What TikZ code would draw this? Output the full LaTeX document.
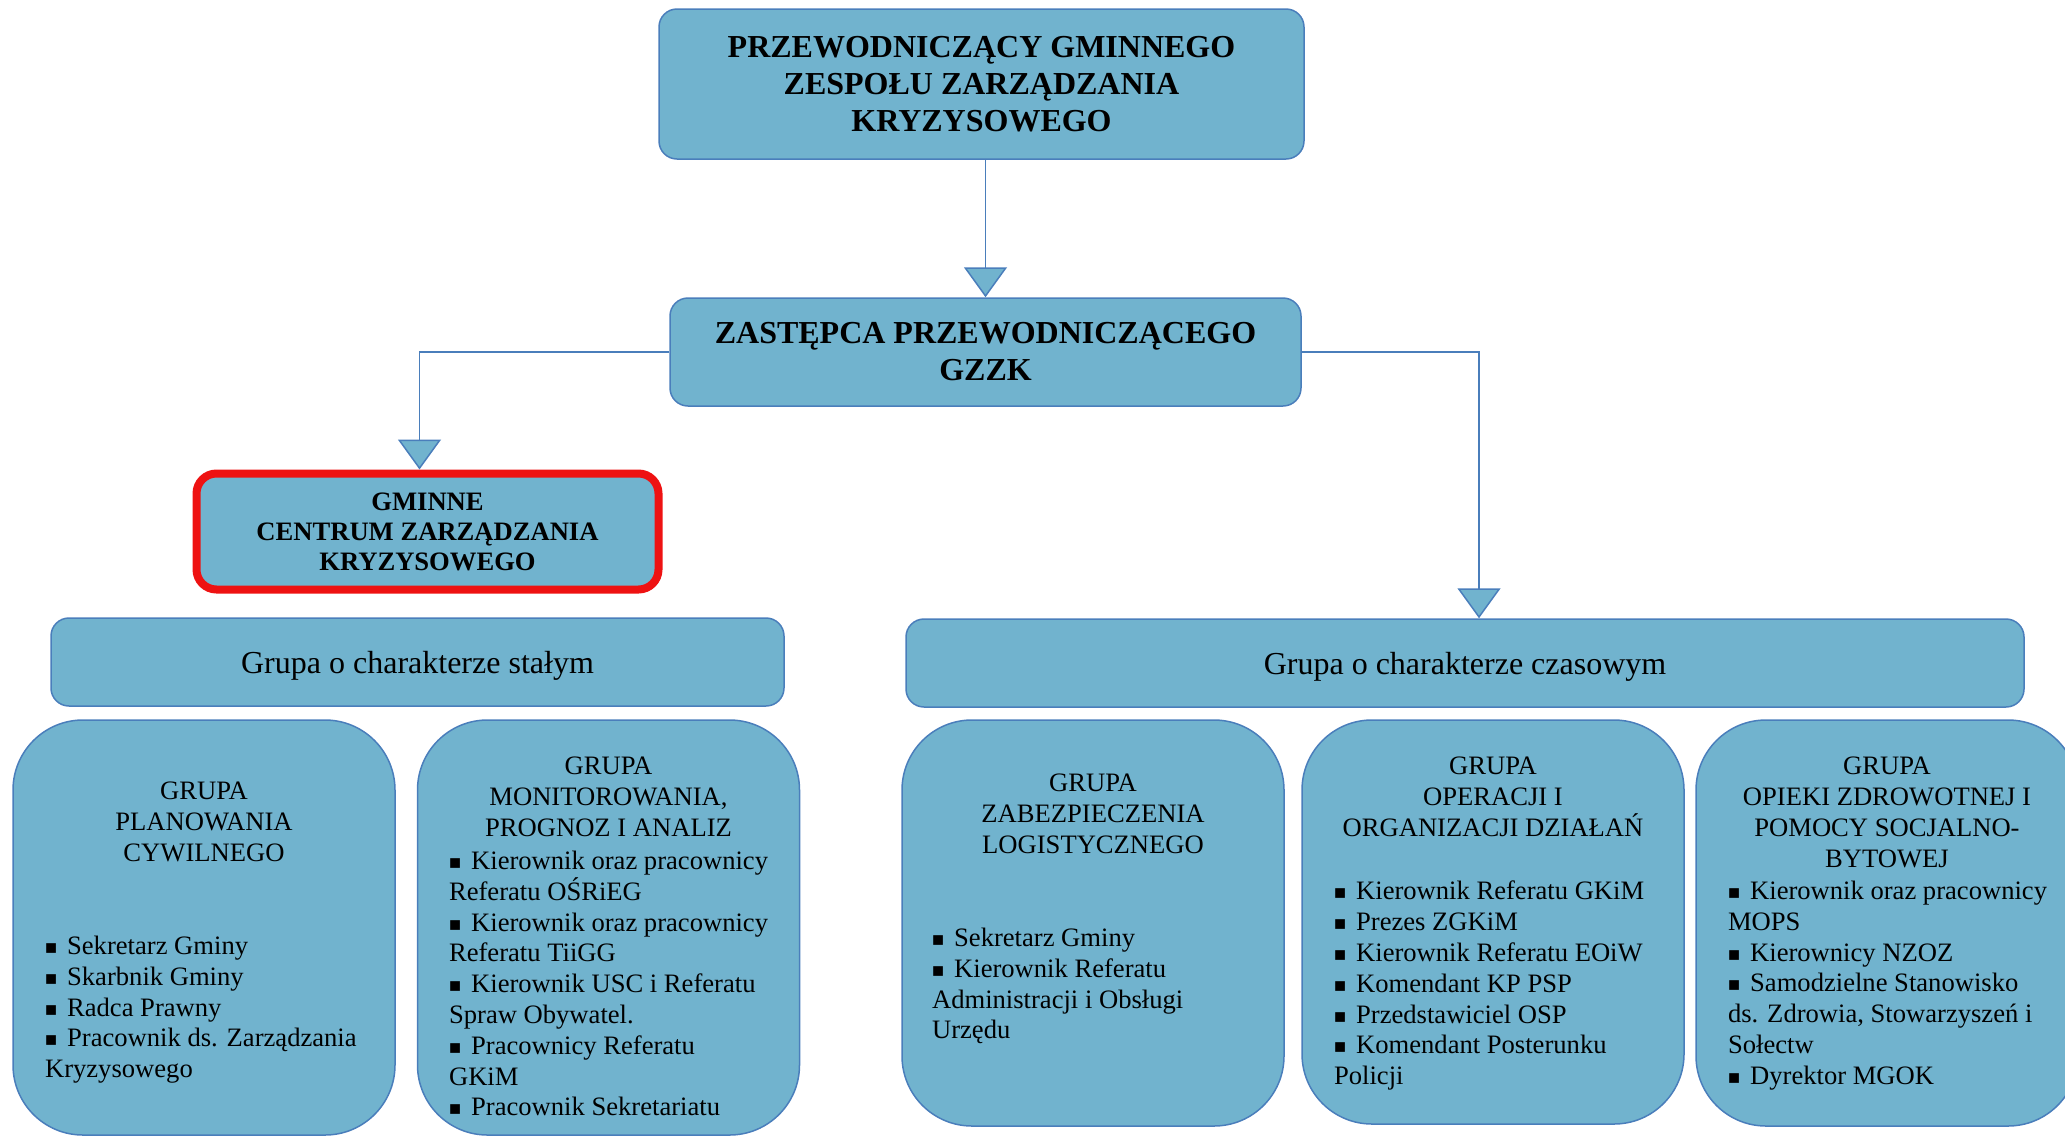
\documentclass[tikz,border=0pt]{standalone}
\usepackage{fontspec}
\setmainfont{Liberation Serif}
\usetikzlibrary{arrows.meta}
\definecolor{kolor}{HTML}{71B3CE}
\definecolor{ramka}{HTML}{4A7EBB}
\definecolor{czerw}{HTML}{EE1212}

\tikzstyle{box} = [draw=ramka, fill=kolor, line width=0.75pt, rounded corners=9pt, align=center, inner sep=0pt]
\tikzstyle{head} = [box, font=\bfseries\fontsize{16}{18.5}\selectfont]
\tikzstyle{bar} = [box, minimum height=44pt, text height=15pt, font=\fontsize{16}{19}\selectfont]
\tikzstyle{card} = [box, rounded corners=35pt, minimum width=191pt]
\tikzstyle{title} = [anchor=north, align=center, font=\fontsize{13.3}{15.4}\selectfont]
\tikzstyle{list} = [anchor=north west, align=left, font=\fontsize{13.3}{15.4}\selectfont]
\tikzstyle{link} = [draw=ramka, line width=0.75pt, -{Triangle[width=21.5pt,length=15pt,fill=kolor]}]

\newcommand{\kw}{{\fontsize{10}{10}\selectfont ■}\hspace{5pt}}

\begin{document}
\begin{tikzpicture}[x=0.5pt, y=-0.5pt]
\useasboundingbox (0,0) rectangle (2065,1136);

\node[head, minimum width=322.5pt, minimum height=75pt] (przew) at (981.5,84)
    {PRZEWODNICZĄCY GMINNEGO\\ZESPOŁU ZARZĄDZANIA\\KRYZYSOWEGO};
\node[head, minimum width=315.5pt, minimum height=54pt] (zast) at (985.5,352)
    {ZASTĘPCA PRZEWODNICZĄCEGO\\GZZK};
\node[head, draw=czerw, line width=4pt, rounded corners=10pt, minimum width=231pt, minimum height=58pt,
      font=\bfseries\fontsize{13.3}{15}\selectfont] (gczk) at (427.5,531.5)
    {GMINNE\\CENTRUM ZARZĄDZANIA\\KRYZYSOWEGO};

\node[bar, minimum width=366.5pt] (staly) at (417.5,662) {Grupa o charakterze stałym};
\node[bar, minimum width=559pt] (czas) at (1465,663) {Grupa o charakterze czasowym};

\node[card, minimum height=207.5pt] (planow) at (204,927.5) {};
\node[card, minimum height=207.5pt] (monit) at (608.5,927.5) {};
\node[card, minimum height=203pt] (logist) at (1093,923) {};
\node[card, minimum height=202pt] (operac) at (1493,922) {};
\node[card, minimum height=203pt] (opieka) at (1887,923) {};

\node[title] (planow-t) at (204,775) {GRUPA\\PLANOWANIA\\CYWILNEGO};
\node[title] (monit-t) at (608.5,750) {GRUPA\\MONITOROWANIA,\\PROGNOZ I ANALIZ};
\node[title] (logist-t) at (1093,767) {GRUPA\\ZABEZPIECZENIA\\LOGISTYCZNEGO};
\node[title] (operac-t) at (1493,750) {GRUPA\\OPERACJI I\\ORGANIZACJI DZIAŁAŃ};
\node[title] (opieka-t) at (1887,750) {GRUPA\\OPIEKI ZDROWOTNEJ I\\POMOCY SOCJALNO-\\BYTOWEJ};

\node[list] (planow-l) at (38,929)
    {\kw Sekretarz Gminy\\\kw Skarbnik Gminy\\\kw Radca Prawny\\\kw Pracownik ds. Zarządzania\\Kryzysowego};
\node[list] (monit-l) at (442,844)
    {\kw Kierownik oraz pracownicy\\Referatu OŚRiEG\\\kw Kierownik oraz pracownicy\\Referatu TiiGG\\
     \kw Kierownik USC i Referatu\\Spraw Obywatel.\\\kw Pracownicy Referatu\\GKiM\\\kw Pracownik Sekretariatu};
\node[list] (logist-l) at (925,921)
    {\kw Sekretarz Gminy\\\kw Kierownik Referatu\\Administracji i Obsługi\\Urzędu};
\node[list] (operac-l) at (1327,874)
    {\kw Kierownik Referatu GKiM\\\kw Prezes ZGKiM\\\kw Kierownik Referatu EOiW\\\kw Komendant KP PSP\\
     \kw Przedstawiciel OSP\\\kw Komendant Posterunku\\Policji};
\node[list] (opieka-l) at (1721,874)
    {\kw Kierownik oraz pracownicy\\MOPS\\\kw Kierownicy NZOZ\\\kw Samodzielne Stanowisko\\
     ds. Zdrowia, Stowarzyszeń i\\Sołectw\\\kw Dyrektor MGOK};

\draw[link] (przew.south -| zast.north) -- (zast.north);
\draw[link] (zast.west) -| ([xshift=-4pt]gczk.north);
\draw[link] (zast.east) -| ([xshift=7pt]czas.north);
\end{tikzpicture}
\end{document}
